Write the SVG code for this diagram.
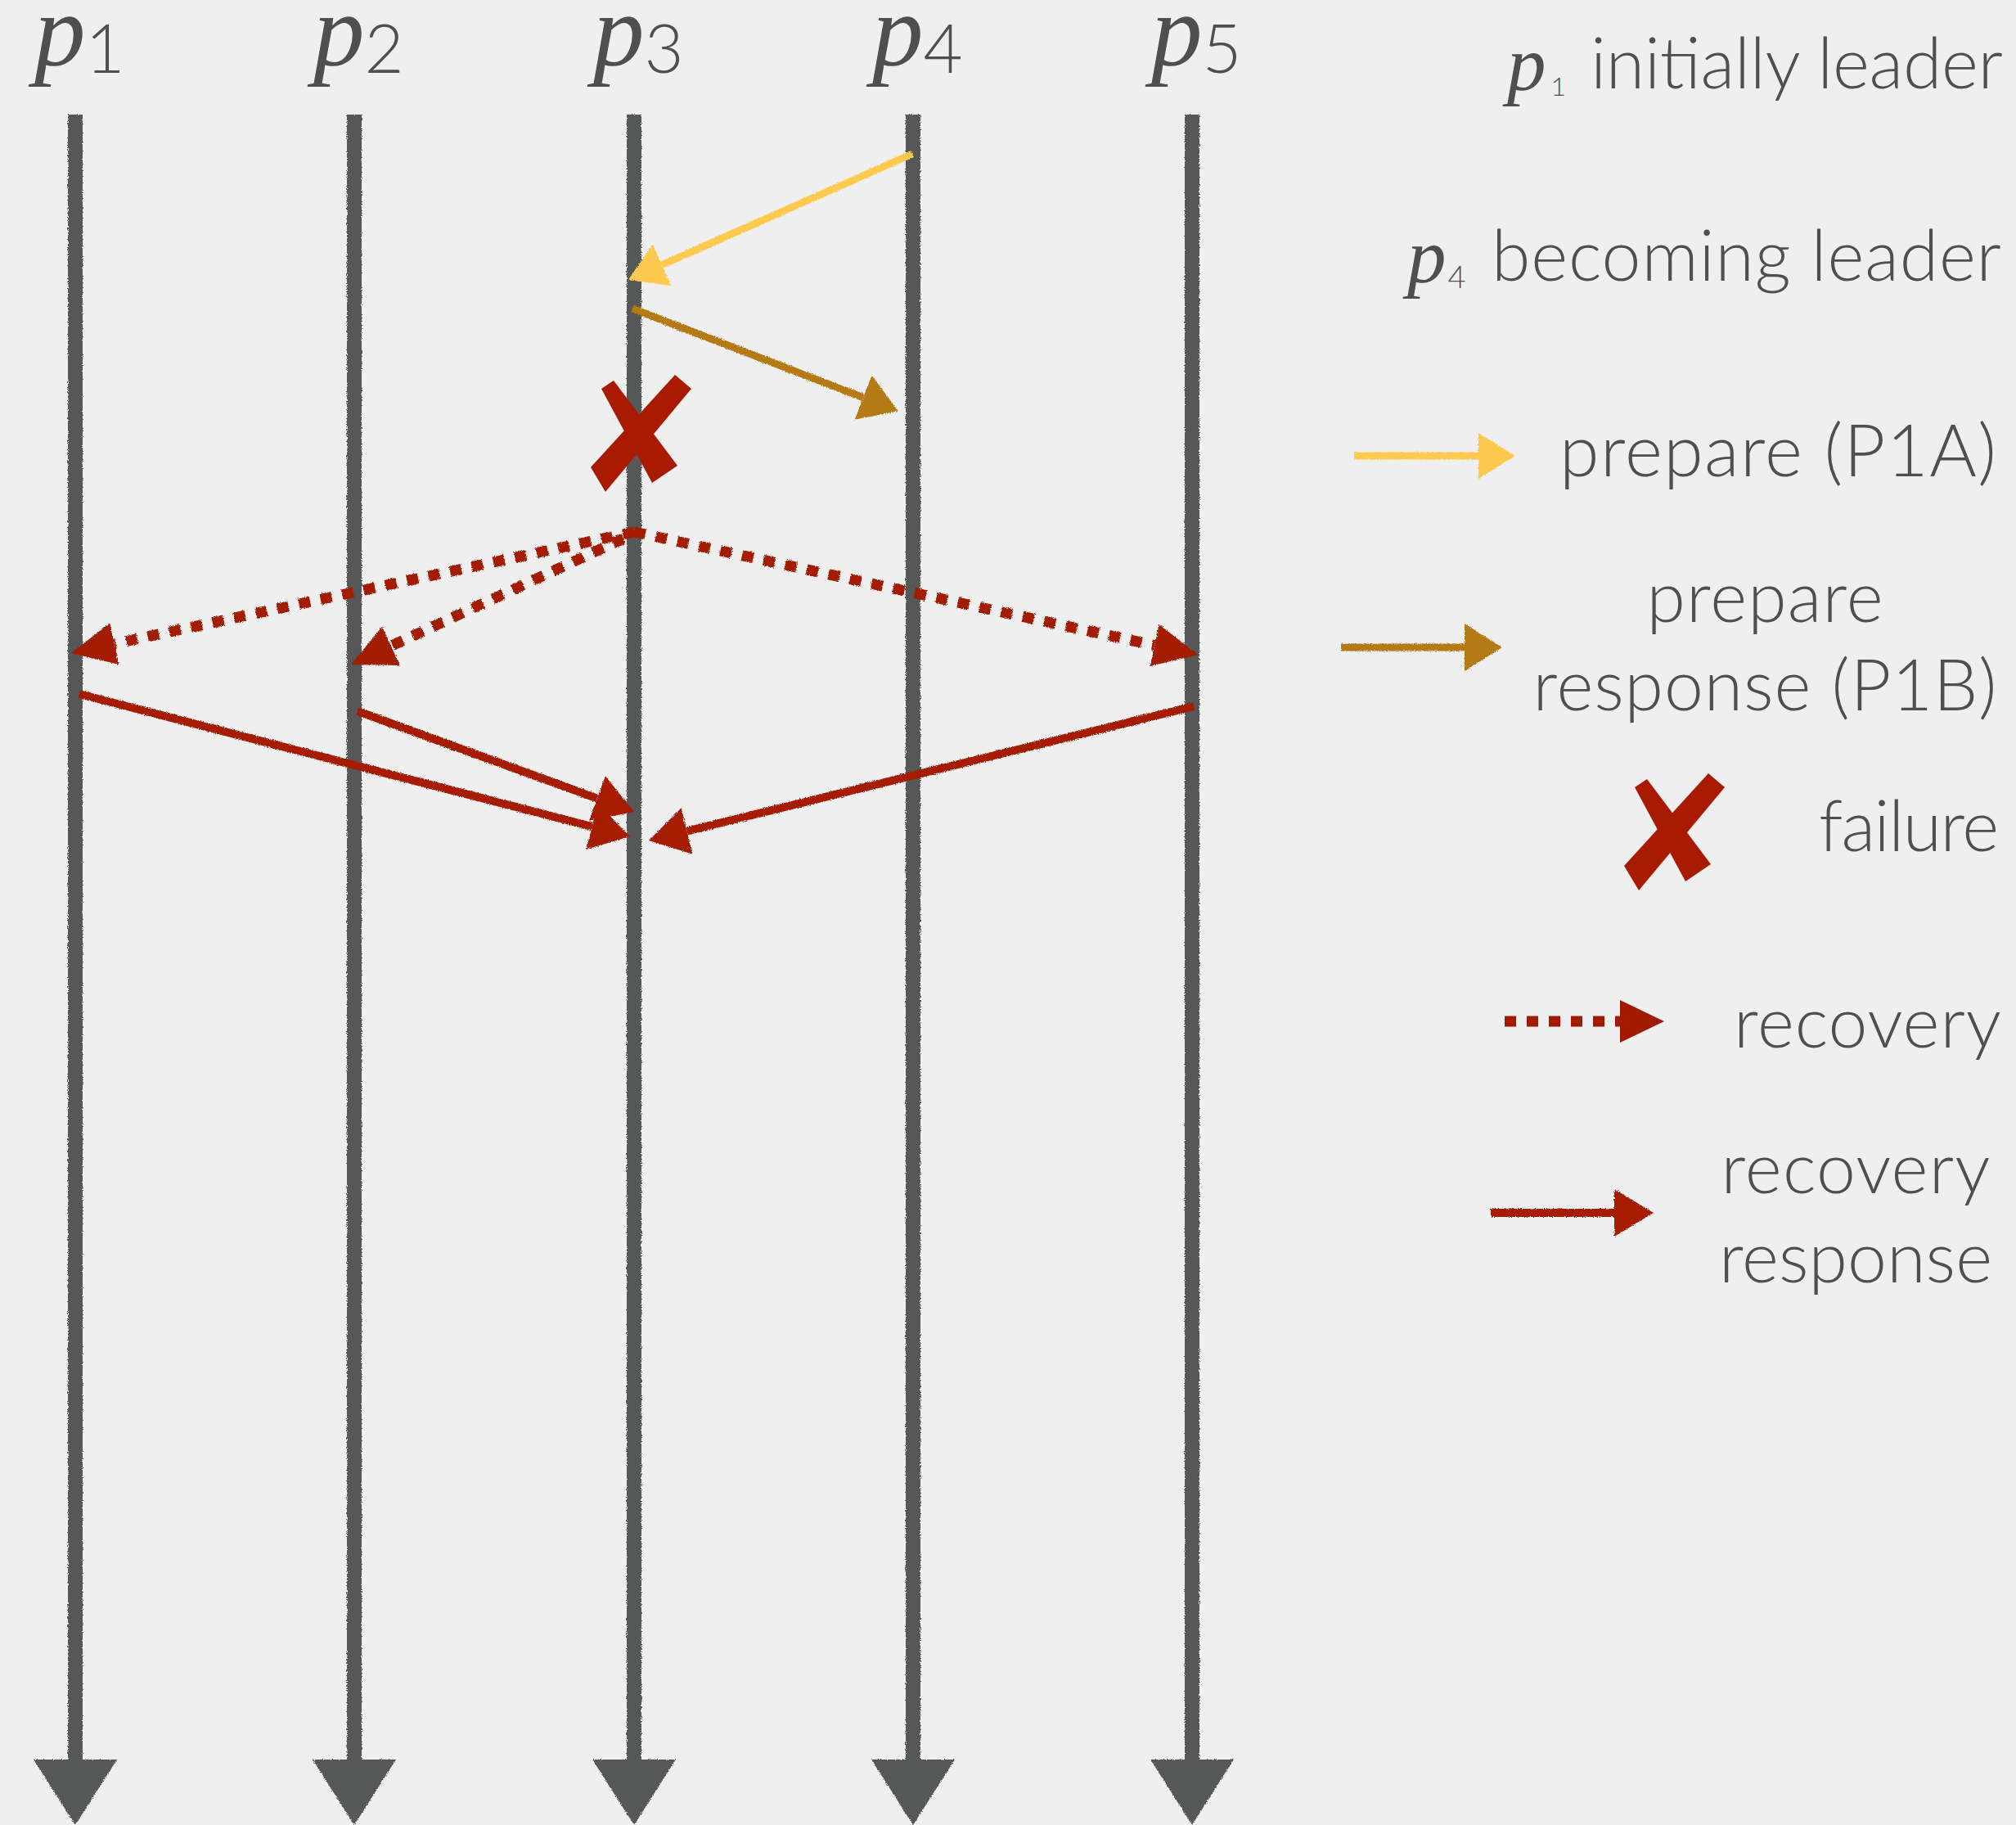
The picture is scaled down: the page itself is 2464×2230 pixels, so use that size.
<svg xmlns="http://www.w3.org/2000/svg" xmlns:xlink="http://www.w3.org/1999/xlink" width="2464" height="2230" viewBox="0 0 2464 2230">
<style>
.bg{fill:#efefef}
.tl{stroke:#545857;stroke-width:18;fill:none;marker-end:url(#hG)}
.pl{font-family:"Liberation Serif",serif;font-style:italic;fill:#4f4f4f}
.sub{font-family:Lato,"Noto Sans",sans-serif;font-style:normal;font-weight:300}
.lg{font-family:Lato,"Noto Sans",sans-serif;font-weight:300;fill:#4f4f4f}
.ya{stroke:#fec94f;stroke-width:9;fill:none;marker-end:url(#hY)}
.ba{stroke:#b47a14;stroke-width:9;fill:none;marker-end:url(#hB)}
.rd{stroke:#a31a03;stroke-width:13;stroke-dasharray:14 13;fill:none;marker-end:url(#hRD)}
.rs{stroke:#a51a05;stroke-width:10;fill:none;marker-end:url(#hRS)}
.xm{fill:#a91a02}
</style>
<defs>
<filter id="rough" filterUnits="userSpaceOnUse" x="0" y="0" width="2464" height="2230">
<feTurbulence type="fractalNoise" baseFrequency="0.9" numOctaves="1" seed="4" result="n"/>
<feDisplacementMap in="SourceGraphic" in2="n" scale="4" xChannelSelector="R" yChannelSelector="G"/>
</filter>
<marker id="hG" markerUnits="userSpaceOnUse" viewBox="0 -52 82 104" markerWidth="82" markerHeight="104" refX="0" refY="0" orient="auto"><path d="M0,-51 L80,0 L0,51 z" fill="#545857"/></marker>
<marker id="hY" markerUnits="userSpaceOnUse" viewBox="0 -30 48 60" markerWidth="48" markerHeight="60" refX="0" refY="0" orient="auto"><path d="M0,-28 L45,0 L0,28 z" fill="#fec94f"/></marker>
<marker id="hB" markerUnits="userSpaceOnUse" viewBox="0 -31 48 62" markerWidth="48" markerHeight="62" refX="0" refY="0" orient="auto"><path d="M0,-29 L46,0 L0,29 z" fill="#b47a14"/></marker>
<marker id="hRD" markerUnits="userSpaceOnUse" viewBox="0 -28 56 56" markerWidth="56" markerHeight="56" refX="0" refY="0" orient="auto"><path d="M0,-26 L54,0 L0,26 z" fill="#a31a03"/></marker>
<marker id="hRS" markerUnits="userSpaceOnUse" viewBox="0 -31 50 62" markerWidth="50" markerHeight="62" refX="0" refY="0" orient="auto"><path d="M0,-29 L48,0 L0,29 z" fill="#a51a05"/></marker>
<symbol id="xmark" overflow="visible">
<polygon class="xm" points="13,17 28,7 106,111 75,132"/>
<polygon class="xm" points="103,0 123,17 18,143 0,113"/>
</symbol>
</defs>
<rect class="bg" x="0" y="0" width="2464" height="2230"/>

<g id="p1">
<line class="tl" x1="92" y1="140" x2="92" y2="2150" filter="url(#rough)"/>
<text class="pl" x="42" y="79" font-size="125">p<tspan class="sub" font-size="83" dy="10">1</tspan></text>
</g>
<g id="p2">
<line class="tl" x1="433" y1="140" x2="433" y2="2150" filter="url(#rough)"/>
<text class="pl" x="383" y="79" font-size="125">p<tspan class="sub" font-size="83" dy="10">2</tspan></text>
</g>
<g id="p3">
<line class="tl" x1="775" y1="140" x2="775" y2="2150" filter="url(#rough)"/>
<text class="pl" x="725" y="79" font-size="125">p<tspan class="sub" font-size="83" dy="10">3</tspan></text>
</g>
<g id="p4">
<line class="tl" x1="1116" y1="140" x2="1116" y2="2150" filter="url(#rough)"/>
<text class="pl" x="1066" y="79" font-size="125">p<tspan class="sub" font-size="83" dy="10">4</tspan></text>
</g>
<g id="p5">
<line class="tl" x1="1457" y1="140" x2="1457" y2="2150" filter="url(#rough)"/>
<text class="pl" x="1407" y="79" font-size="125">p<tspan class="sub" font-size="83" dy="10">5</tspan></text>
</g>

<g id="failure-p3">
<use xlink:href="#xmark" href="#xmark" x="722" y="458"/>
</g>

<g id="connectors" filter="url(#rough)">
<line class="ya" x1="1115" y1="188" x2="809.1" y2="323.7"/>
<line class="ba" x1="773" y1="377" x2="1055" y2="485.8"/>
<line class="rd" x1="775" y1="650" x2="139.8" y2="786.6"/>
<line class="rd" x1="762" y1="658" x2="478" y2="789.3"/>
<line class="rd" x1="775" y1="650" x2="1411.2" y2="788.5"/>
<line class="rs" x1="97" y1="848" x2="723.5" y2="1010"/>
<line class="rs" x1="437" y1="869" x2="729.9" y2="975.6"/>
<line class="rs" x1="1459" y1="863" x2="839.6" y2="1015.5"/>
</g>

<g id="legend-p1">
<text class="pl" x="1842" y="110" font-size="95">p<tspan class="sub" font-size="32" dx="6" dy="7">1</tspan></text>
<text class="lg" x="2448" y="108" font-size="86" text-anchor="end" textLength="504">initially leader</text>
</g>
<g id="legend-p4">
<text class="pl" x="1720" y="345" font-size="95">p<tspan class="sub" font-size="38" dx="2" dy="7">4</tspan></text>
<text class="lg" x="2446" y="343" font-size="86" text-anchor="end" textLength="623">becoming leader</text>
</g>
<g id="legend-prepare">
<line class="ya" x1="1655" y1="557" x2="1807" y2="557" filter="url(#rough)"/>
<text class="lg" x="2440" y="582" font-size="88" text-anchor="end" textLength="534">prepare (P1A)</text>
</g>
<g id="legend-prepare-response">
<line class="ba" x1="1639" y1="791" x2="1790" y2="791" filter="url(#rough)"/>
<text class="lg" x="2157" y="760" font-size="86" text-anchor="middle" textLength="289">prepare</text>
<text class="lg" x="2157" y="868" font-size="86" text-anchor="middle" textLength="567">response (P1B)</text>
</g>
<g id="legend-failure">
<use xlink:href="#xmark" href="#xmark" x="1985" y="945"/>
<text class="lg" x="2443" y="1040" font-size="86" text-anchor="end" textLength="220">failure</text>
</g>
<g id="legend-recovery">
<line class="rd" x1="1839" y1="1248" x2="1980" y2="1248"/>
<text class="lg" x="2446" y="1280" font-size="86" text-anchor="end" textLength="327">recovery</text>
</g>
<g id="legend-recovery-response">
<line class="rs" x1="1822" y1="1482" x2="1973" y2="1482" filter="url(#rough)"/>
<text class="lg" x="2268" y="1458" font-size="86" text-anchor="middle" textLength="329">recovery</text>
<text class="lg" x="2268" y="1567" font-size="86" text-anchor="middle" textLength="334">response</text>
</g>
</svg>
